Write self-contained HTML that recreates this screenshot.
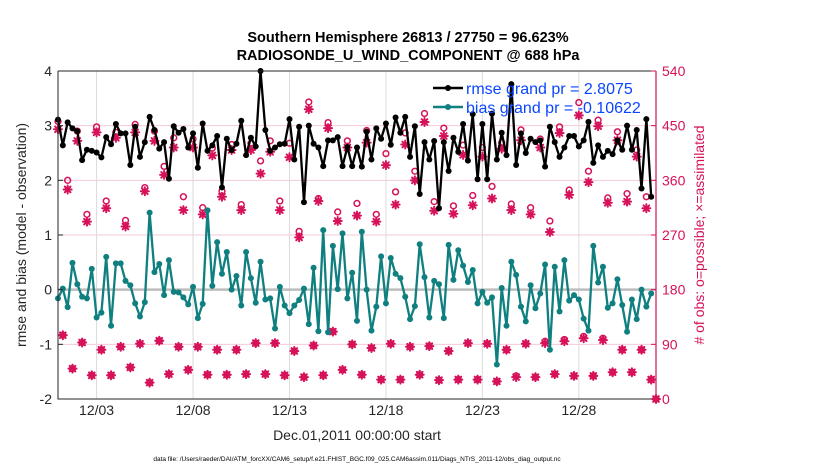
<!DOCTYPE html>
<html><head><meta charset="utf-8"><style>
body{margin:0;background:#fff;}
svg{display:block;font-family:"Liberation Sans",sans-serif;}
</style></head><body>
<svg id="chart" width="830" height="470" viewBox="0 0 830 470">
<text x="408" y="42" text-anchor="middle" font-size="14.5" font-weight="bold">Southern Hemisphere 26813 / 27750 = 96.623%</text>
<text x="408" y="60" text-anchor="middle" font-size="14.5" font-weight="bold">RADIOSONDE_U_WIND_COMPONENT @ 688 hPa</text>
<g id="grid"></g><g id="marks"></g><g id="axes"></g>
<text transform="translate(26,235) rotate(-90)" text-anchor="middle" font-size="14" fill="#262626">rmse and bias (model - observation)</text>
<text transform="translate(704,235) rotate(-90)" text-anchor="middle" font-size="14" fill="#d6125a"># of obs: o=possible; ×=assimilated</text>
<text x="357" y="440" text-anchor="middle" font-size="14" fill="#262626">Dec.01,2011 00:00:00 start</text>
<text x="357" y="461" text-anchor="middle" font-size="6.5" fill="#000">data file: /Users/raeder/DAI/ATM_forcXX/CAM6_setup/f.e21.FHIST_BGC.f09_025.CAM6assim.011/Diags_NTrS_2011-12/obs_diag_output.nc</text>
<g>
<line x1="433" y1="88" x2="463" y2="88" stroke="#000" stroke-width="2.5"/><circle cx="448" cy="88" r="3" fill="#000"/>
<text x="466" y="94" font-size="16" fill="#0a46ff">rmse grand pr = 2.8075</text>
<line x1="433" y1="107" x2="463" y2="107" stroke="#0f7f7f" stroke-width="2.5"/><circle cx="448" cy="107" r="3" fill="#0f7f7f"/>
<text x="466" y="113" font-size="16" fill="#0a46ff">bias grand pr = -0.10622</text>
</g>
</svg>
<script>
const rmse=[3.11,2.64,3.06,2.95,2.90,2.37,2.56,2.54,2.51,2.42,2.79,2.66,3.03,2.86,2.86,2.28,2.98,2.43,2.70,3.16,2.92,2.58,2.70,2.03,2.99,2.87,2.94,2.60,2.86,2.23,3.04,2.54,2.64,2.81,1.87,2.76,2.55,2.67,3.09,2.46,2.78,2.62,4.0,2.92,2.54,2.60,2.66,2.67,3.12,2.38,2.98,1.60,3.00,2.67,2.60,2.26,2.73,2.73,2.79,2.26,2.61,2.26,2.60,2.25,2.89,2.38,2.95,2.76,3.04,2.65,3.15,2.87,3.16,2.43,2.99,1.75,2.70,2.38,2.72,1.49,2.70,2.17,2.78,2.52,3.03,2.36,3.21,2.02,3.03,2.02,3.22,2.38,2.87,2.46,3.76,2.28,2.86,2.50,2.76,2.70,2.73,2.25,2.98,2.70,2.43,2.60,2.81,2.81,2.62,2.73,3.07,2.32,2.64,2.43,2.54,2.48,2.73,2.56,3.00,2.56,2.92,1.85,3.12,1.70];
const bias=[-0.16,0.02,-0.32,0.49,0.10,-0.13,-0.16,0.38,-0.51,-0.42,0.60,-0.66,0.48,0.48,0.16,0.08,-0.25,-0.49,-0.23,1.41,0.32,0.47,-0.10,0.54,-0.04,-0.05,-0.14,-0.27,0.05,-0.52,-0.26,1.45,0.07,0.87,0.29,0.69,0.0,0.25,-0.29,0.69,0.21,-0.24,0.51,-0.18,-0.16,-0.71,0.05,-0.29,-0.43,-0.29,-0.19,0.02,-0.63,0.40,-0.76,1.09,-0.78,0.80,0.01,1.03,-0.16,0.31,-0.57,1.06,0.0,-0.75,-0.31,0.61,-0.25,0.58,0.29,0.21,-0.13,-0.54,-0.30,0.83,0.23,-0.51,0.16,0.10,-0.52,0.82,0.18,0.72,0.44,0.14,0.36,-0.25,-0.04,-0.24,-0.14,-1.37,0.03,-0.66,0.51,0.27,-0.31,-0.58,0.08,-0.34,-0.07,0.46,-1.10,0.42,-0.40,0.54,-0.20,-0.10,-0.18,-0.53,-0.75,0.80,0.13,0.42,-0.33,-0.25,0.19,-0.28,-0.77,-0.18,-0.54,0.0,-0.31,-0.07];
const possible=[457,105,360,50,441,93,304,39,448,81,326,39,439,86,294,52,452,91,348,27,441,96,383,41,430,86,333,48,428,86,315,40,413,81,342,40,419,81,320,41,421,92,392,41,425,92,326,39,421,79,276,36,489,88,330,39,455,111,308,48,425,90,322,40,442,84,304,32,404,91,341,32,438,86,375,40,470,87,325,31,446,79,318,32,418,92,335,32,414,91,350,29,422,81,321,38,443,91,315,36,428,95,293,41,448,98,344,38,488,103,375,38,459,100,331,44,440,81,338,44,410,81,333,32,0];
const assimilated=[444,105,345,50,425,93,292,39,439,81,314,39,430,86,284,52,439,91,342,27,425,96,369,41,414,86,311,48,414,86,304,40,401,81,333,40,410,81,311,41,410,92,371,41,407,92,311,39,398,79,266,36,477,88,326,39,446,111,293,48,414,90,302,40,422,84,292,32,385,91,320,32,419,86,360,40,456,87,310,31,433,79,305,32,402,92,319,32,399,91,330,29,412,81,311,36,426,91,304,36,414,92,275,41,438,95,336,38,467,100,357,38,449,97,323,44,426,81,325,44,399,81,314,32,0];
const leftTicks=[-2,-1,0,1,2,3,4];
const rightTicks=[0,90,180,270,360,450,540];
const dayTicks=[2,7,12,17,22,27];
const dayLabels=["12/03","12/08","12/13","12/18","12/23","12/28"];
const stepDays=0.25;

const NS="http://www.w3.org/2000/svg";
const L=58,R=656,T=71,B=399;
const x=d=>L+(d/31)*(R-L);
const y=v=>B-(v+2)/6*(B-T);
const yr=c=>B-c/540*(B-T);
function mk(tag,attrs,parent){const e=document.createElementNS(NS,tag);for(const k in attrs)e.setAttribute(k,attrs[k]);parent.appendChild(e);return e;}
const grid=document.getElementById('grid'),marks=document.getElementById('marks'),axes=document.getElementById('axes');

leftTicks.forEach(v=>{if(v>-2&&v<4){const l=mk('line',{x1:L,x2:R,y1:y(v),y2:y(v),stroke:'#f6c8d8','stroke-width':1},grid);

}});
dayTicks.forEach((d,i)=>{const l=mk('line',{x1:x(d),x2:x(d),y1:T,y2:B,stroke:'#dcdcdc','stroke-width':1},grid);


const t=mk('text',{x:x(d),y:415,'text-anchor':'middle','font-size':14,fill:'#262626'},axes);t.textContent=dayLabels[i];

});
const zl=mk('line',{x1:L,x2:R,y1:y(0),y2:y(0),stroke:'#bdbdbd','stroke-width':2.5},grid);



const red='#d6125a';
function star(cx,cy){const g=mk('g',{stroke:red,'stroke-width':2,'stroke-linecap':'round'},marks);
for(let a=0;a<4;a++){const an=a*Math.PI/4;mk('line',{x1:cx-4*Math.cos(an),y1:cy-4*Math.sin(an),x2:cx+4*Math.cos(an),y2:cy+4*Math.sin(an)},g);}

}
possible.forEach((c,i)=>{const cx=x(i*stepDays);
const o=mk('circle',{cx:cx,cy:yr(c),r:2.9,fill:'none',stroke:red,'stroke-width':1.5},marks);


star(cx,yr(assimilated[i]));});

function series(vals,color,name){
const pts=vals.map((v,i)=>x(i*stepDays).toFixed(1)+','+y(v).toFixed(1)).join(' ');
const pl=mk('polyline',{points:pts,fill:'none',stroke:color,'stroke-width':2.3,'stroke-linejoin':'round'},marks);


vals.forEach((v,i)=>{const c=mk('circle',{cx:x(i*stepDays),cy:y(v),r:3,fill:color},marks);

});}
series(bias,'#0f7f7f','bias');
series(rmse,'#000000','rmse');

const frame=mk('path',{d:`M${L},${T}H${R}M${L},${T}V${B}H${R}`,stroke:'#262626',fill:'none','stroke-width':1},axes);


const ra=mk('line',{x1:R,x2:R,y1:T,y2:B,stroke:red,'stroke-width':1.2},axes);


leftTicks.forEach(v=>{mk('line',{x1:L,x2:L+5,y1:y(v),y2:y(v),stroke:'#262626'},axes);
const t=mk('text',{x:L-6,y:y(v)+5,'text-anchor':'end','font-size':14,fill:'#262626'},axes);t.textContent=v;

});
rightTicks.forEach(v=>{mk('line',{x1:R-5,x2:R,y1:yr(v),y2:yr(v),stroke:red},axes);
const t=mk('text',{x:R+6,y:yr(v)+5,'font-size':14,fill:red},axes);t.textContent=v;

});
</script>
</body></html>
